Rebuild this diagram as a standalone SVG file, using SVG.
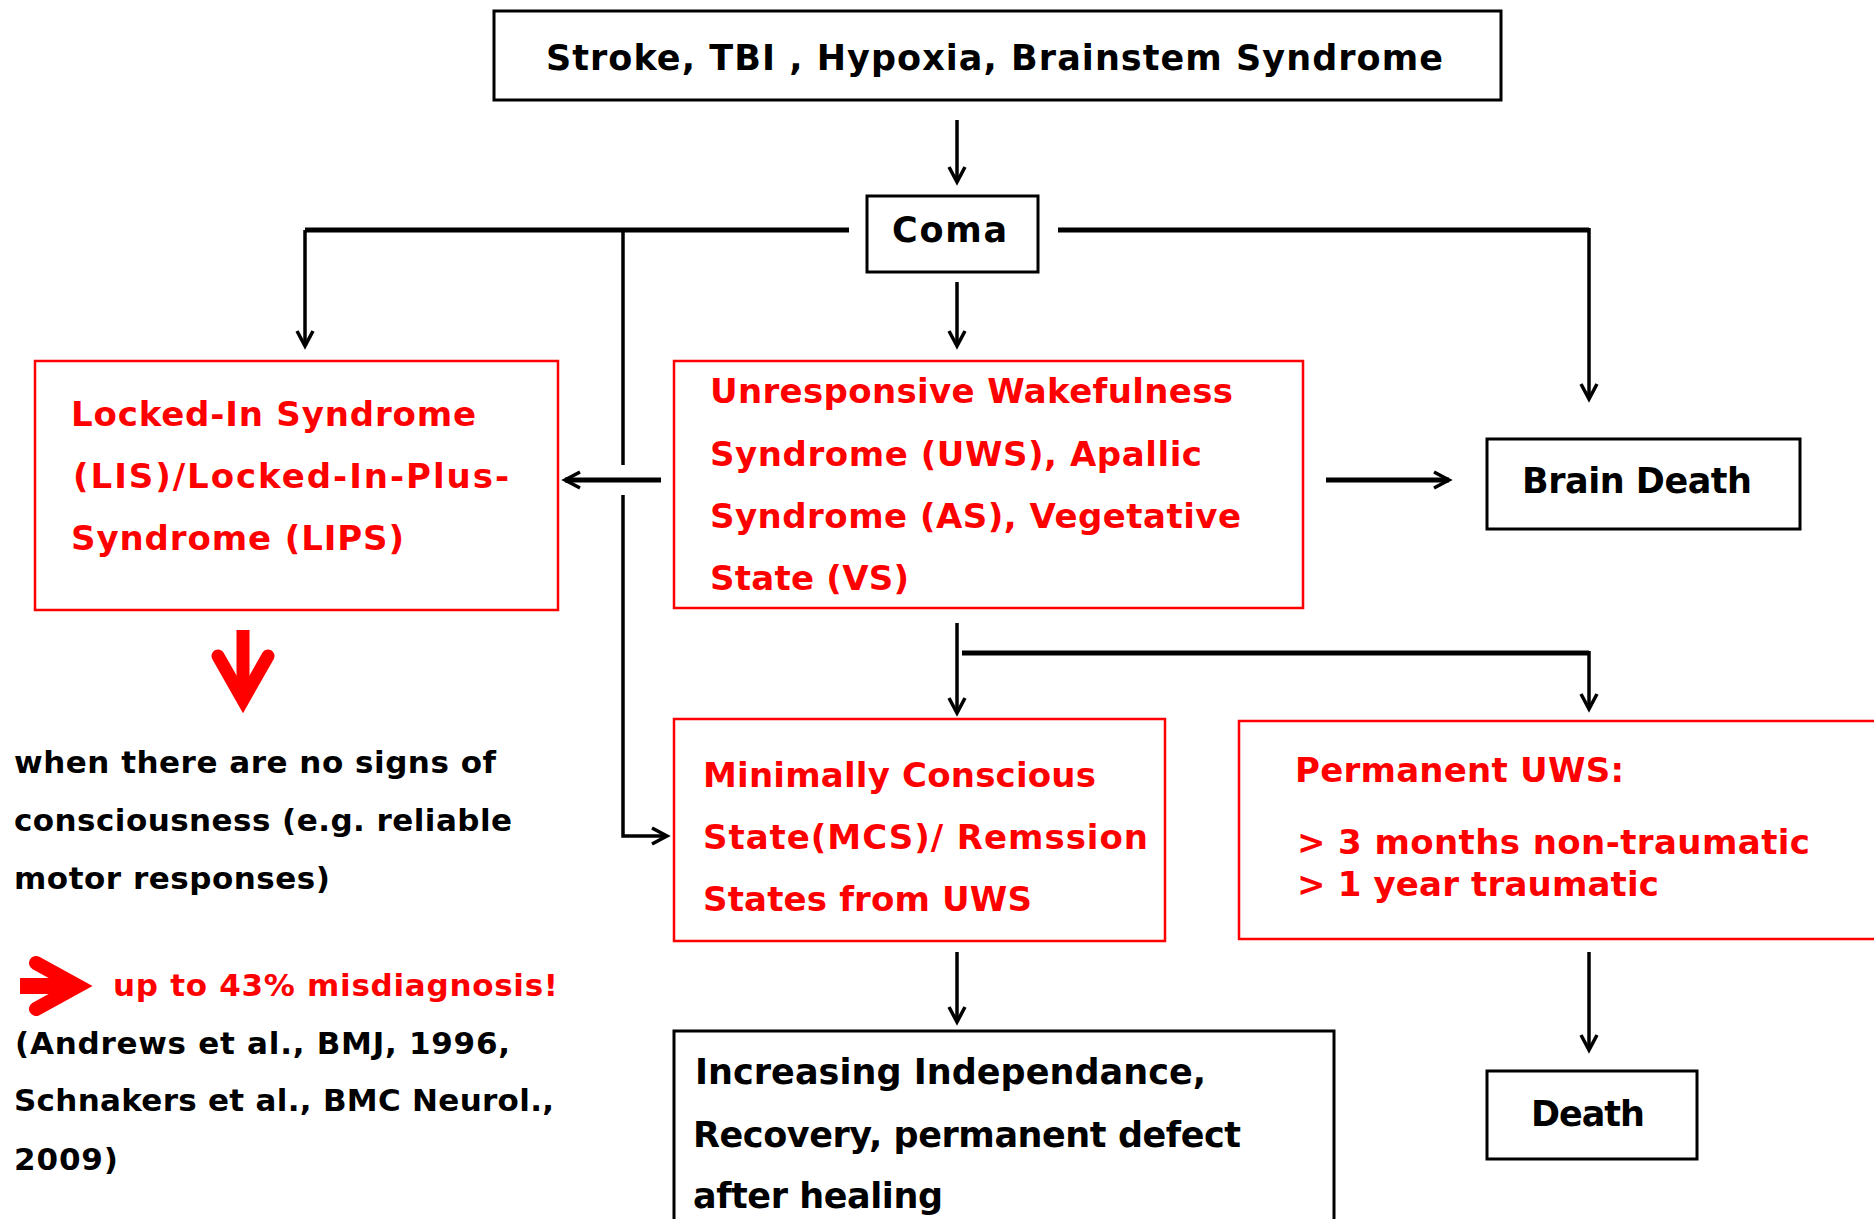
<svg xmlns="http://www.w3.org/2000/svg" width="1874" height="1219" viewBox="0 0 1874 1219">
<style>
.bk{fill:#fff;stroke:#000;stroke-width:3}
.rd{fill:#fff;stroke:#f00;stroke-width:2.5}
text{font-family:"DejaVu Sans","Verdana",sans-serif;font-weight:bold}
.t{font-size:35px;fill:#000}
.r{font-size:34px;fill:#f00}
.n{font-size:31px;fill:#000}
.nr{font-size:31px;fill:#f00}
.c{fill:none;stroke:#000;stroke-width:3.5}
.h{fill:none;stroke:#000;stroke-width:5}
</style>
<defs>
<marker id="ah" markerUnits="userSpaceOnUse" markerWidth="24" markerHeight="24" viewBox="-18 -12 22 24" refX="0" refY="0" orient="auto">
<path d="M-15,-8 L0,0 L-15,8" fill="none" stroke="#000" stroke-width="3.5" stroke-linejoin="miter"/>
</marker>
</defs>
<rect width="1874" height="1219" fill="#fff"/>

<g id="connectors">
<line class="c" x1="957" y1="120" x2="957" y2="182" marker-end="url(#ah)"/>
<path class="h" d="M849,230 H305"/>
<path class="c" d="M305,230 V346" marker-end="url(#ah)"/>
<path class="c" d="M623,230 V465"/>
<path class="c" d="M623,495 V836 H667" marker-end="url(#ah)"/>
<line class="h" x1="661" y1="480" x2="565" y2="480" marker-end="url(#ah)"/>
<line class="c" x1="957" y1="282" x2="957" y2="346" marker-end="url(#ah)"/>
<path class="h" d="M1058,230 H1589"/>
<path class="c" d="M1589,228 V399" marker-end="url(#ah)"/>
<line class="h" x1="1326" y1="480" x2="1449" y2="480" marker-end="url(#ah)"/>
<line class="c" x1="957" y1="623" x2="957" y2="713" marker-end="url(#ah)"/>
<path class="h" d="M962,653 H1589"/>
<path class="c" d="M1589,651 V709" marker-end="url(#ah)"/>
<line class="c" x1="957" y1="952" x2="957" y2="1022" marker-end="url(#ah)"/>
<line class="c" x1="1589" y1="952" x2="1589" y2="1050" marker-end="url(#ah)"/>
</g>

<g id="top">
<rect class="bk" x="494" y="11" width="1007" height="89"/>
<text class="t" x="546" y="70" font-size="36" textLength="897">Stroke, TBI , Hypoxia, Brainstem Syndrome</text>
</g>

<g id="coma">
<rect class="bk" x="867" y="196" width="171" height="76"/>
<text class="t" x="892" y="242" textLength="115">Coma</text>
</g>

<g id="lis">
<rect class="rd" x="35" y="361" width="523" height="249"/>
<text class="r" x="71" y="426" textLength="405">Locked-In Syndrome</text>
<text class="r" x="73" y="488" textLength="436">(LIS)/Locked-In-Plus-</text>
<text class="r" x="71" y="550" textLength="333">Syndrome (LIPS)</text>
</g>

<g id="uws">
<rect class="rd" x="674" y="361" width="629" height="247"/>
<text class="r" x="710" y="403" textLength="523">Unresponsive Wakefulness</text>
<text class="r" x="710" y="466" textLength="492">Syndrome (UWS), Apallic</text>
<text class="r" x="710" y="528" textLength="531">Syndrome (AS), Vegetative</text>
<text class="r" x="710" y="590" textLength="199">State (VS)</text>
</g>

<g id="braindeath">
<rect class="bk" x="1487" y="439" width="313" height="90"/>
<text class="t" x="1522" y="493" textLength="230">Brain Death</text>
</g>

<g id="mcs">
<rect class="rd" x="674" y="719" width="491" height="222"/>
<text class="r" x="703" y="787" textLength="393">Minimally Conscious</text>
<text class="r" x="703" y="849" textLength="445">State(MCS)/ Remssion</text>
<text class="r" x="703" y="911" textLength="329">States from UWS</text>
</g>

<g id="permanent">
<rect class="rd" x="1239" y="721" width="700" height="218"/>
<text class="r" x="1295" y="782" textLength="329">Permanent UWS:</text>
<text class="r" x="1297" y="854" textLength="513">&gt; 3 months non-traumatic</text>
<text class="r" x="1297" y="896" textLength="362">&gt; 1 year traumatic</text>
</g>

<g id="outcome">
<rect class="bk" x="674" y="1031" width="660" height="220"/>
<text class="t" x="695" y="1084" textLength="511">Increasing Independance,</text>
<text class="t" x="693" y="1147" textLength="548">Recovery, permanent defect</text>
<text class="t" x="693" y="1208" textLength="250">after healing</text>
</g>

<g id="death">
<rect class="bk" x="1487" y="1071" width="210" height="88"/>
<text class="t" x="1531" y="1126" textLength="114">Death</text>
</g>

<g id="note">
<path d="M243,630 V690" stroke="#f00" stroke-width="13" fill="none"/>
<path d="M218,656 L243,700 L268,656" stroke="#f00" stroke-width="13" fill="none" stroke-linecap="round" stroke-linejoin="miter"/>
<text class="n" x="14" y="773" textLength="482">when there are no signs of</text>
<text class="n" x="14" y="831" textLength="498">consciousness (e.g. reliable</text>
<text class="n" x="14" y="889" textLength="316">motor responses)</text>
<path d="M20,986 H70" stroke="#f00" stroke-width="16" fill="none"/>
<path d="M36,963 L78,986 L36,1009" stroke="#f00" stroke-width="14" fill="none" stroke-linecap="round" stroke-linejoin="miter"/>
<text class="nr" x="113" y="996" textLength="445">up to 43% misdiagnosis!</text>
<text class="n" x="15" y="1054" textLength="495">(Andrews et al., BMJ, 1996,</text>
<text class="n" x="14" y="1111" textLength="540">Schnakers et al., BMC Neurol.,</text>
<text class="n" x="14" y="1170" textLength="104">2009)</text>
</g>
</svg>
